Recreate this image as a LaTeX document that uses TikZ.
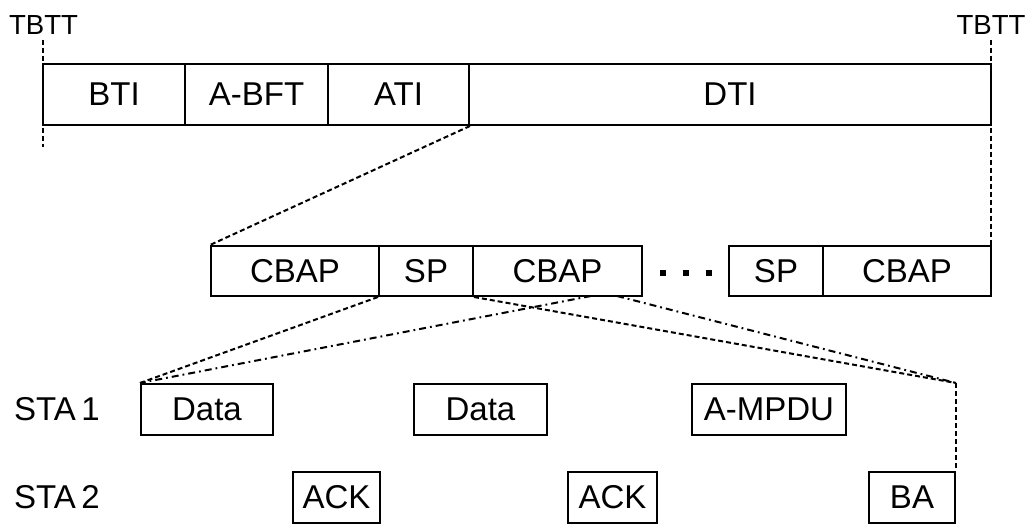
\documentclass[tikz,border=0pt]{standalone}
\usepackage{fontspec}
\setmainfont{Liberation Sans}
\begin{document}
\begin{tikzpicture}[x=0.5pt,y=-0.5pt,
  every node/.style={font=\fontsize{16.5}{19}\selectfont},
  seg/.style={draw, line width=1pt, inner sep=0pt, minimum height=30.5pt},
  seg2/.style={draw, line width=1pt, inner sep=0pt, minimum height=25pt},
  frame/.style={draw, line width=1pt, inner sep=0pt, minimum height=25.5pt},
  mark label/.style={font=\fontsize{13.8}{16}\selectfont, inner sep=0pt},
  zoomline/.style={line width=1pt, dash pattern=on 2.5pt off 1.5pt},
  dashdotline/.style={line width=1pt, dash pattern=on 3.5pt off 2pt on 0.9pt off 2pt},
  dotsq/.style={fill, inner sep=0pt, minimum size=2.6pt}]
\useasboundingbox (0,0) rectangle (1035,524);

% beacon interval
\node[seg, minimum width=71pt]   (bti)  at (114,94.5)   {BTI};
\node[seg, minimum width=71.5pt] (abft) at (256.5,94.5) {A-BFT};
\node[seg, minimum width=70.5pt] (ati)  at (398.5,94.5) {ATI};
\node[seg, minimum width=261pt]  (dti)  at (730,94.5)   {DTI};

% target beacon transmission times
\node[mark label] (tbttL) at (43.5,25) {TBTT};
\node[mark label] (tbttR) at (991,25) {TBTT};
\coordinate (tbttLend) at (43,147);
\draw[zoomline] (43,40) -- (tbttLend);
\draw[zoomline] (991,40) -- (991,246);

% data transfer interval
\node[seg2, minimum width=84pt]   (cbap1) at (295,271)   {CBAP};
\node[seg2, minimum width=47pt]   (sp1)   at (426,271)   {SP};
\node[seg2, minimum width=84.5pt] (cbap2) at (557.5,271) {CBAP};
\node[seg2, minimum width=47pt]   (sp2)   at (776,271)   {SP};
\node[seg2, minimum width=84pt]   (cbap3) at (907,271)   {CBAP};
\node[dotsq] (d1) at (663,273) {};
\node[dotsq] (d2) at (686,273) {};
\node[dotsq] (d3) at (709,273) {};

% stations
\node[inner sep=0pt] (sta1) at (57,409.5) {STA\,1};
\node[inner sep=0pt] (sta2) at (57,497.5) {STA\,2};

\node[frame, minimum width=66pt]   (data1) at (207,409.5)   {Data};
\node[frame, minimum width=66.5pt] (data2) at (480.5,409.5) {Data};
\node[frame, minimum width=77pt]   (ampdu) at (769,409.5)   {A-MPDU};
\node[frame, minimum width=43.5pt] (ack1)  at (336.5,497.5) {ACK};
\node[frame, minimum width=44.5pt] (ack2)  at (612.5,497.5) {ACK};
\node[frame, minimum width=43pt]   (ba)    at (912,497.5)   {BA};

% zoom connectors
\draw[zoomline] (ati.south east) -- (cbap1.north west);
\coordinate (cbapA) at (591,296);
\coordinate (cbapB) at (617,296);
\coordinate (spEnd) at (ba.north east |- data1.north);
\draw[zoomline] (sp1.south west) -- (data1.north west);
\draw[dashdotline] (cbapA) -- (data1.north west);
\draw[zoomline] (sp1.south east) -- (spEnd);
\draw[dashdotline] (cbapB) -- (spEnd);
\draw[zoomline] (spEnd) -- (ba.north east);
\end{tikzpicture}
\end{document}
